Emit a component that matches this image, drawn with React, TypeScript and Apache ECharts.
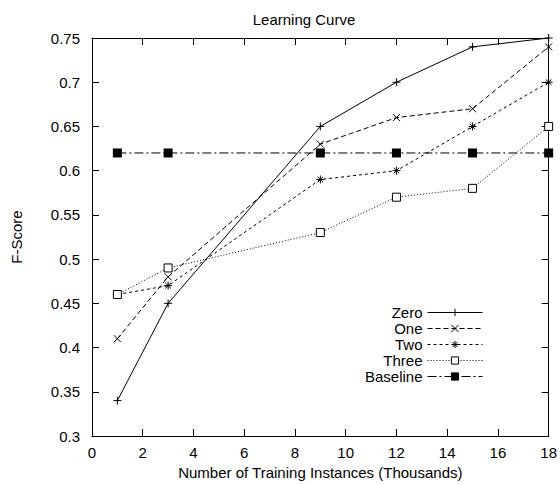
import React, { useEffect, useRef } from "react";
import * as echarts from "echarts";

const xValues = [1, 3, 9, 12, 15, 18];
const zeroScores = [0.34, 0.45, 0.65, 0.7, 0.74, 0.75];
const oneScores = [0.41, 0.48, 0.63, 0.66, 0.67, 0.74];
const twoScores = [0.46, 0.47, 0.59, 0.6, 0.65, 0.7];
const threeScores = [0.46, 0.49, 0.53, 0.57, 0.58, 0.65];
const baselineScores = [0.62, 0.62, 0.62, 0.62, 0.62, 0.62];

const FONT = "'Liberation Sans', Arial, sans-serif";
const FS = 15;

const PLUS = "path://M5,0 L5,10 M0,5 L10,5";
const CROSS = "path://M0,0 L10,10 M10,0 L0,10";
const STAR = "path://M5,0 L5,10 M0,5 L10,5 M1.5,1.5 L8.5,8.5 M8.5,1.5 L1.5,8.5";

function pairs(ys: number[]) {
  return xValues.map((x, i) => [x, ys[i]]);
}

export default function App() {
  const ref = useRef<HTMLDivElement>(null);
  useEffect(() => {
    document.body.style.margin = "0";
    if (!ref.current) return;
    const chart = echarts.init(ref.current, undefined, { renderer: "svg" });
    const strokeSym = { color: "transparent", borderColor: "#000", borderWidth: 1 };
    const mk = (name: string, data: number[], symbol: string, size: number, dash: any, itemStyle: any) => ({
      name,
      type: "line",
      data: pairs(data),
      symbol,
      symbolSize: size,
      showAllSymbol: true,
      color: "#000",
      lineStyle: { color: "#000", width: 1, type: dash },
      itemStyle,
      emphasis: { disabled: true },
    });
    const axisCommon = {
      type: "value",
      axisLine: { show: true, onZero: false, lineStyle: { color: "#000", width: 1 } },
      axisTick: { show: true, inside: true, length: 7, lineStyle: { color: "#000" } },
      splitLine: { show: false },
    };
    chart.setOption({
      animation: false,
      backgroundColor: "#fff",
      title: {
        text: "Learning Curve",
        left: 299,
        textAlign: "center",
        top: 7,
        textStyle: { fontFamily: FONT, fontSize: FS, fontWeight: "normal", color: "#000" },
      },
      grid: { left: 92, right: 11, top: 38, bottom: 49 },
      legend: {
        orient: "vertical",
        align: "right",
        right: 72,
        top: 300,
        itemWidth: 55,
        itemHeight: 9,
        itemGap: 1,
        lineStyle: { width: 1 },
        itemStyle: { borderWidth: 1 },
        textStyle: { fontFamily: FONT, fontSize: FS, color: "#000" },
        data: ["Zero", "One", "Two", "Three", "Baseline"],
      },
      xAxis: [
        {
          ...axisCommon,
          min: 0,
          max: 18,
          interval: 2,
          position: "bottom",
          name: "Number of Training Instances (Thousands)",
          nameLocation: "middle",
          nameGap: 28,
          nameTextStyle: { fontFamily: FONT, fontSize: FS, color: "#000" },
          axisLabel: { fontFamily: FONT, fontSize: FS, color: "#000", margin: 9 },
        },
        {
          ...axisCommon,
          min: 0,
          max: 18,
          interval: 2,
          position: "top",
          axisLabel: { show: false },
        },
      ],
      yAxis: [
        {
          ...axisCommon,
          min: 0.3,
          max: 0.75,
          interval: 0.05,
          position: "left",
          name: "F-Score",
          nameLocation: "middle",
          nameGap: 68,
          nameTextStyle: { fontFamily: FONT, fontSize: FS, color: "#000" },
          axisLabel: {
            fontFamily: FONT,
            fontSize: FS,
            color: "#000",
            margin: 12,
            formatter: (v: number) => String(+v.toFixed(2)),
          },
        },
        {
          ...axisCommon,
          min: 0.3,
          max: 0.75,
          interval: 0.05,
          position: "right",
          axisLabel: { show: false },
        },
      ],
      series: [
        mk("Zero", zeroScores, PLUS, 8, "solid", strokeSym),
        mk("One", oneScores, CROSS, 7, [5, 3], strokeSym),
        mk("Two", twoScores, STAR, 8, [3, 3], strokeSym),
        mk("Three", threeScores, "rect", 8, [1, 2], { color: "#fff", borderColor: "#000", borderWidth: 1 }),
        mk("Baseline", baselineScores, "rect", 9, [9, 3, 2, 3], { color: "#000", borderColor: "#000", borderWidth: 0 }),
      ],
    });
    return () => chart.dispose();
  }, []);
  return <div ref={ref} style={{ width: 560, height: 485 }} />;
}
